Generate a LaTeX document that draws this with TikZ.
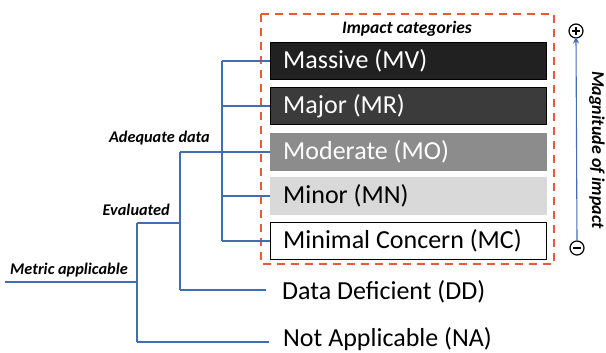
\documentclass[tikz,border=0pt]{standalone}
\usepackage{fontspec}
\setmainfont{Carlito}
\usetikzlibrary{arrows.meta}
\definecolor{treeblue}{RGB}{68,108,180}
\definecolor{dashred}{RGB}{232,90,50}
\tikzset{
  tree/.style={draw=treeblue, line width=1.3pt},
  cat/.style={draw=#1, minimum width=276pt, minimum height=37pt, inner sep=0pt, anchor=west},
  catlabel/.style={anchor=west, inner sep=0pt, font=\fontsize{26}{26}\selectfont},
  branchlabel/.style={inner sep=0pt, font=\fontsize{16.3}{16.3}\selectfont\bfseries\itshape},
  biglabel/.style={inner sep=0pt, font=\fontsize{17.5}{17.5}\selectfont\bfseries\itshape},
  sign/.style={circle, draw=black, line width=1.2pt, minimum size=14pt, inner sep=0pt}
}
\begin{document}
\begin{tikzpicture}[x=1pt,y=-1pt]
\useasboundingbox (0,0) rectangle (606,353);
% impact category boxes
\node[cat=black, fill=black!87] (mv) at (270,61) {};
\node[cat=black, fill=black!77] (mr) at (270,106) {};
\node[cat=black!45, fill=black!45] (mo) at (270,152) {};
\node[cat=black!15, fill=black!15] (mn) at (270,196) {};
\node[cat=black, fill=white, line width=1pt] (mc) at (270,241) {};
\node[catlabel, text=white] (mvt) at ([xshift=13pt]mv.west) {Massive (MV)};
\node[catlabel, text=white] (mrt) at ([xshift=13pt]mr.west) {Major (MR)};
\node[catlabel, text=white] (mot) at ([xshift=13pt]mo.west) {Moderate (MO)};
\node[catlabel, text=black] (mnt) at ([xshift=13pt]mn.west) {Minor (MN)};
\node[catlabel, text=black] (mct) at ([xshift=13pt]mc.west) {Minimal Concern (MC)};
% dashed frame
\draw[dashred, line width=2pt, dash pattern=on 8pt off 6pt] (261,14) rectangle (554,264);
\node[biglabel] (title) at (407,29) {Impact categories};
% other outcomes
\node[catlabel] (dd) at (282,292) {Data Deficient (DD)};
\node[catlabel] (na) at (283,339) {Not Applicable (NA)};
% tree junctions
\coordinate (root) at (5,282);
\coordinate (j1) at (137,282);
\coordinate (j1t) at (137,223);
\coordinate (j1b) at (137,342);
\coordinate (j2t) at (180,152);
\coordinate (j2m) at (180,223);
\coordinate (j2b) at (180,290);
\coordinate (j3) at (222,152);
\coordinate (j3t) at (222,61);
\coordinate (j3b) at (222,241);
\draw[tree] (root) -- (j1);
\draw[tree] (j1t) -- (j1b);
\draw[tree] (j1t) -- (j2m);
\draw[tree] (j2t) -- (j2b);
\draw[tree] (j3t) -- (j3b);
\draw[tree] (j2t) -- (mo.west);
\draw[tree] (j3t) -- (mv.west);
\draw[tree] (j3t |- mr.west) -- (mr.west);
\draw[tree] (j3t |- mn.west) -- (mn.west);
\draw[tree] (j3b) -- (mc.west);
\draw[tree] (j2b) -- ([xshift=-16pt]dd.west |- j2b);
\draw[tree] (j1b) -- ([xshift=-14pt]na.west |- j1b);
% branch labels
\node[branchlabel, anchor=east] (adq) at (210,138) {Adequate data};
\node[branchlabel, anchor=east] (evl) at (170,210) {Evaluated};
\node[branchlabel, anchor=west] (met) at (10,270) {Metric applicable};
% magnitude scale
\node[sign] (plus) at (576,31) {};
\draw[line width=1.2pt] ([xshift=-4pt]plus.center) -- ([xshift=4pt]plus.center)
  ([yshift=-4pt]plus.center) -- ([yshift=4pt]plus.center);
\node[sign] (minus) at (577,248) {};
\draw[line width=1.5pt] ([xshift=-4pt]minus.center) -- ([xshift=4pt]minus.center);
\draw[treeblue, line width=1.1pt, -{Stealth[length=7pt,width=6pt]}] (minus.north) -- ([yshift=2pt]plus.south);
\node[inner sep=0pt, font=\fontsize{18}{18}\selectfont\bfseries\itshape, rotate=-90] (mag) at (597,150) {Magnitude of impact};
\end{tikzpicture}
\end{document}
